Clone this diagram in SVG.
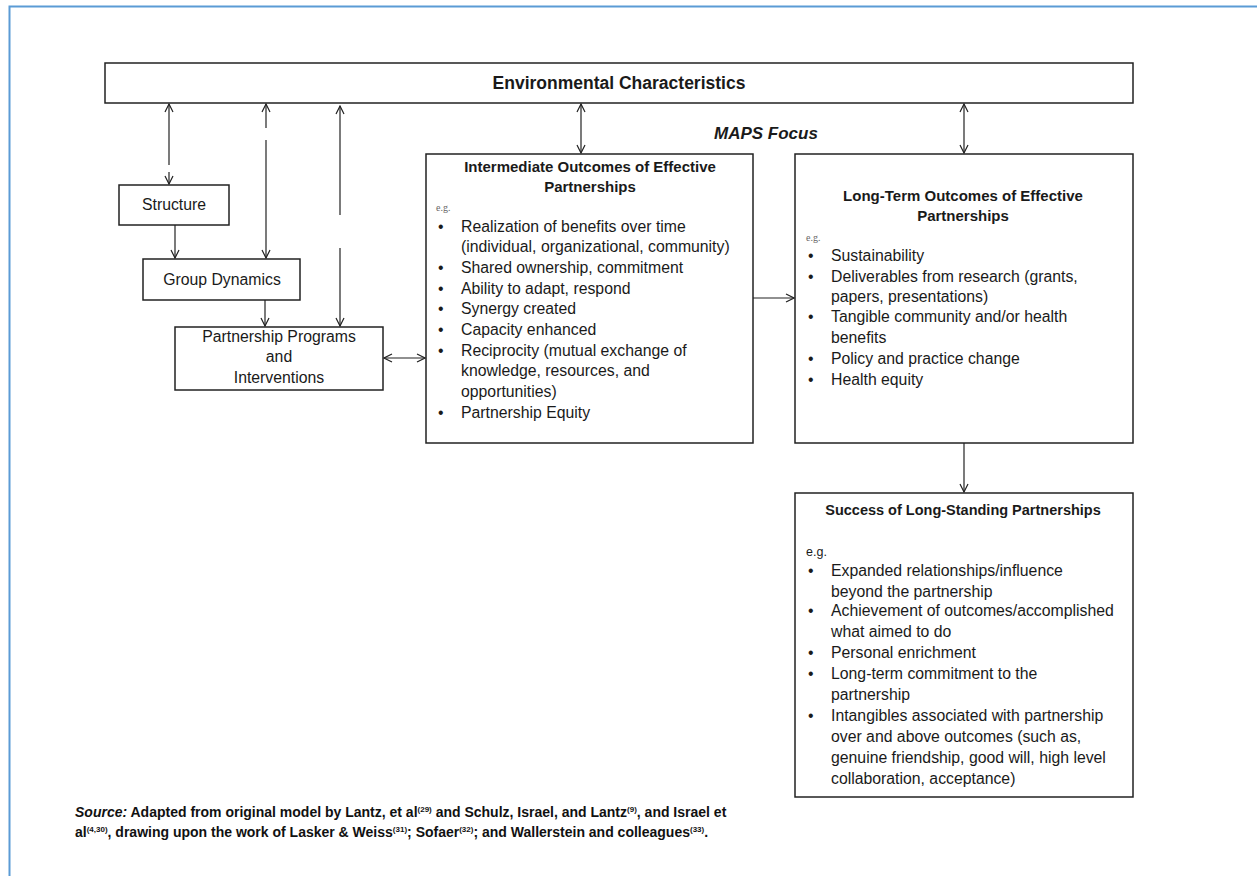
<svg xmlns="http://www.w3.org/2000/svg" width="1257" height="876" viewBox="0 0 1257 876">
<style>
.box{fill:#fff;stroke:#222;stroke-width:1.5}
.t{font-family:"Liberation Sans",Arial,sans-serif;font-size:15.8px;fill:#1a1a1a}
.b{font-weight:bold;font-size:15px}
.c{text-anchor:middle}
.eg{font-family:"Liberation Serif",serif;font-size:10px;fill:#666}
.ln{stroke:#222;stroke-width:1.2;fill:none}
.src{font-family:"Liberation Sans",Arial,sans-serif;font-size:14px;font-weight:bold;fill:#111}
</style>
<defs>
<marker id="ah" viewBox="0 0 10 10" refX="9" refY="5" markerWidth="10" markerHeight="10" markerUnits="userSpaceOnUse" orient="auto-start-reverse">
<polyline points="1,1 9,5 1,9" fill="none" stroke="#222" stroke-width="1.2"/>
</marker>
</defs>
<rect width="1257" height="876" fill="#fff"/>
<path d="M9.5 880 V6.5 H1260" fill="none" stroke="#5b9bd5" stroke-width="2"/>

<g id="environmental">
<rect class="box" x="105" y="63" width="1028" height="40"/>
<text class="t b c" x="619" y="89" style="font-size:17.5px">Environmental Characteristics</text>
</g>

<text id="maps-focus" class="t b" x="714" y="139" style="font-style:italic;font-size:17px">MAPS Focus</text>

<g id="structure">
<rect class="box" x="119" y="185" width="110" height="40"/>
<text class="t c" x="174" y="210">Structure</text>
</g>

<g id="group-dynamics">
<rect class="box" x="143" y="259" width="157" height="41"/>
<text class="t c" x="222" y="285">Group Dynamics</text>
</g>

<g id="partnership-programs">
<rect class="box" x="175" y="327" width="208" height="63"/>
<text class="t c" x="279" y="342">Partnership Programs</text>
<text class="t c" x="279" y="362">and</text>
<text class="t c" x="279" y="383">Interventions</text>
</g>

<g id="intermediate">
<rect class="box" x="426" y="154" width="327" height="289"/>
<text class="t b c" x="590" y="172">Intermediate Outcomes of Effective</text>
<text class="t b c" x="590" y="192">Partnerships</text>
<text class="eg" x="436" y="211">e.g.</text>
<g class="t">
<text x="438" y="232">•</text><text x="461" y="232">Realization of benefits over time</text>
<text x="461" y="252">(individual, organizational, community)</text>
<text x="438" y="273">•</text><text x="461" y="273">Shared ownership, commitment</text>
<text x="438" y="294">•</text><text x="461" y="294">Ability to adapt, respond</text>
<text x="438" y="314">•</text><text x="461" y="314">Synergy created</text>
<text x="438" y="335">•</text><text x="461" y="335">Capacity enhanced</text>
<text x="438" y="356">•</text><text x="461" y="356">Reciprocity (mutual exchange of</text>
<text x="461" y="376">knowledge, resources, and</text>
<text x="461" y="397">opportunities)</text>
<text x="438" y="418">•</text><text x="461" y="418">Partnership Equity</text>
</g>
</g>

<g id="long-term">
<rect class="box" x="795" y="154" width="338" height="289"/>
<text class="t b c" x="963" y="201">Long-Term Outcomes of Effective</text>
<text class="t b c" x="963" y="221">Partnerships</text>
<text class="eg" x="806" y="241">e.g.</text>
<g class="t">
<text x="808" y="261">•</text><text x="831" y="261">Sustainability</text>
<text x="808" y="282">•</text><text x="831" y="282">Deliverables from research (grants,</text>
<text x="831" y="302">papers, presentations)</text>
<text x="808" y="322">•</text><text x="831" y="322">Tangible community and/or health</text>
<text x="831" y="343">benefits</text>
<text x="808" y="364">•</text><text x="831" y="364">Policy and practice change</text>
<text x="808" y="385">•</text><text x="831" y="385">Health equity</text>
</g>
</g>

<g id="success">
<rect class="box" x="795" y="493" width="338" height="304"/>
<text class="t b c" x="963" y="515" style="font-size:14.5px">Success of Long-Standing Partnerships</text>
<text class="t" x="806" y="556" style="font-size:12.5px">e.g.</text>
<g class="t">
<text x="808" y="576">•</text><text x="831" y="576">Expanded relationships/influence</text>
<text x="831" y="597">beyond the partnership</text>
<text x="808" y="616">•</text><text x="831" y="616">Achievement of outcomes/accomplished</text>
<text x="831" y="637">what aimed to do</text>
<text x="808" y="658">•</text><text x="831" y="658">Personal enrichment</text>
<text x="808" y="679">•</text><text x="831" y="679">Long-term commitment to the</text>
<text x="831" y="700">partnership</text>
<text x="808" y="721">•</text><text x="831" y="721">Intangibles associated with partnership</text>
<text x="831" y="742">over and above outcomes (such as,</text>
<text x="831" y="763">genuine friendship, good will, high level</text>
<text x="831" y="784">collaboration, acceptance)</text>
</g>
</g>

<g id="connectors">
<line class="ln" x1="169" y1="104" x2="169" y2="165" marker-start="url(#ah)"/>
<line class="ln" x1="169" y1="172" x2="169" y2="184" marker-end="url(#ah)"/>
<line class="ln" x1="266" y1="104" x2="266" y2="128" marker-start="url(#ah)"/>
<line class="ln" x1="266" y1="140" x2="266" y2="258" marker-end="url(#ah)"/>
<line class="ln" x1="340" y1="106" x2="340" y2="215" marker-start="url(#ah)"/>
<line class="ln" x1="340" y1="248" x2="340" y2="326" marker-end="url(#ah)"/>
<line class="ln" x1="175" y1="225" x2="175" y2="258" marker-end="url(#ah)"/>
<line class="ln" x1="265" y1="300" x2="265" y2="326" marker-end="url(#ah)"/>
<line class="ln" x1="384" y1="358" x2="425" y2="358" marker-start="url(#ah)" marker-end="url(#ah)"/>
<line class="ln" x1="581" y1="104" x2="581" y2="153" marker-start="url(#ah)" marker-end="url(#ah)"/>
<line class="ln" x1="964" y1="104" x2="964" y2="153" marker-start="url(#ah)" marker-end="url(#ah)"/>
<line class="ln" x1="753" y1="298" x2="794" y2="298" marker-end="url(#ah)"/>
<line class="ln" x1="964" y1="443" x2="964" y2="492" marker-end="url(#ah)"/>
</g>

<g id="source">
<text class="src" x="75" y="817"><tspan font-style="italic">Source:</tspan> Adapted from original model by Lantz, et al<tspan font-size="8" dy="-5">(29)</tspan><tspan dy="5"> and Schulz, Israel, and Lantz</tspan><tspan font-size="8" dy="-5">(9)</tspan><tspan dy="5">, and Israel et</tspan></text>
<text class="src" x="75" y="837">al<tspan font-size="8" dy="-5">(4,30)</tspan><tspan dy="5">, drawing upon the work of Lasker &amp; Weiss</tspan><tspan font-size="8" dy="-5">(31)</tspan><tspan dy="5">; Sofaer</tspan><tspan font-size="8" dy="-5">(32)</tspan><tspan dy="5">; and Wallerstein and colleagues</tspan><tspan font-size="8" dy="-5">(33)</tspan><tspan dy="5">.</tspan></text>
</g>
</svg>
